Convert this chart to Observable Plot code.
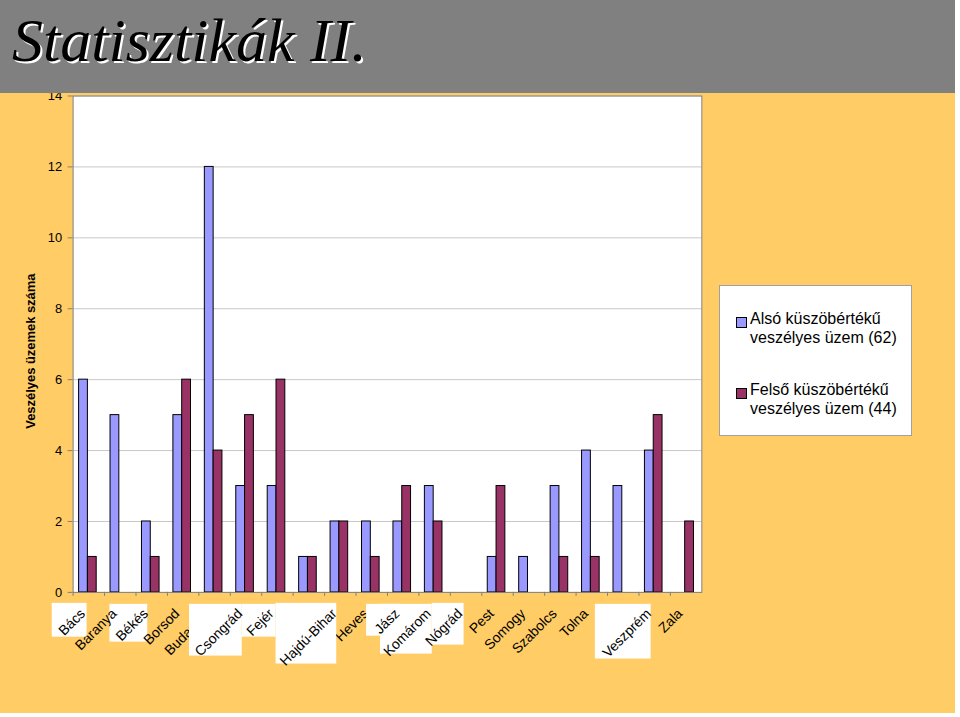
<!DOCTYPE html>
<html><head><meta charset="utf-8">
<script src="https://cdn.jsdelivr.net/npm/d3@7"></script>
<script src="https://cdn.jsdelivr.net/npm/@observablehq/plot@0.6"></script>
<style>
html,body{margin:0;padding:0;background:#fff;}
#page{position:relative;width:955px;height:713px;background:#FFCC66;overflow:hidden;font-family:"Liberation Sans",Arial,sans-serif;}
#header{position:absolute;left:0;top:0;width:955px;height:93px;background:#808080;z-index:2;}
#title{position:absolute;left:12px;top:9px;font-family:"Liberation Serif",serif;font-style:italic;font-size:62px;color:#000;text-shadow:2px 2px 0 #fff;line-height:1;white-space:nowrap;}
#chart{position:absolute;left:0;top:0;z-index:1;}
#chart svg{display:block;}
#legend{position:absolute;left:719px;top:285px;width:193px;height:151px;background:#fff;border:1px solid #a0a0a0;box-sizing:border-box;z-index:3;}
.item{position:absolute;left:16px;width:170px;}
.sw{position:absolute;left:0;top:8px;width:9px;height:9px;border:1px solid #000;}
.lt{position:absolute;left:14px;top:0;width:155px;font-size:16px;line-height:19px;color:#000;}
</style></head>
<body>
<div id="page">
  <div id="header"><div id="title">Statisztikák II.</div></div>
  <div id="chart"></div>
  <div id="legend"></div>
</div>
<script>
const counties = ["Bács","Baranya","Békés","Borsod","Budapest","Csongrád","Fejér","Győr","Hajdú-Bihar","Heves","Jász","Komárom","Nógrád","Pest","Somogy","Szabolcs","Tolna","Vas","Veszprém","Zala"];
const alsoValues  = [6,5,2,5,12,3,3,1,2,2,2,3,0,1,1,3,4,3,4,0];
const felsoValues = [1,0,1,6,4,5,6,1,2,1,3,2,0,3,0,1,1,0,5,2];
const seriesNames = ["Alsó küszöbértékű veszélyes üzem (62)","Felső küszöbértékű veszélyes üzem (44)"];
const yTicks = [0,2,4,6,8,10,12,14];
const yTitle = "Veszélyes üzemek száma";
const boxedLabels = ["Bács","Békés","Csongrád","Fejér","Hajdú-Bihar","Jász","Komárom","Nógrád","Veszprém"];

const colors = ["#9999FF","#993366"];
// white label backgrounds present in the original slide (decoration)
const boxesUnder = [[110,607,38,38]];
const boxesOver = [[52,606,35,34],[190,607,53,52],[243,607,34,33],[277,606,61,61],[368,607,34,32],[382,607,52,50],[434,606,32,42],[598,607,56,55]];

const W = 960, H = 717, mL = 73, mR = 255, mT = 96, mB = 122;
const step = (W - mL - mR) / counties.length;
const groupW = step * 0.56, barW = groupW / 2, outerL = step * 0.19, outerR = step - groupW - outerL;

const alsoData = counties.map((c,i)=>({county:c, value:alsoValues[i], series:seriesNames[0]})).filter(d=>d.value>0);
const felsoData = counties.map((c,i)=>({county:c, value:felsoValues[i], series:seriesNames[1]})).filter(d=>d.value>0);
const plainLabels = counties.filter(c => !boxedLabels.includes(c));

const labelOpts = {tickSize:0, tickRotate:-45, tickPadding:19, dx:-6, fontSize:14, label:null, fill:"black"};

const plot = Plot.plot({
  width: W, height: H,
  marginLeft: mL, marginRight: mR, marginTop: mT, marginBottom: mB,
  style: {background:"transparent", fontFamily:"'Liberation Sans', Arial, sans-serif", fontSize:"13px", color:"black"},
  x: {domain: counties, padding: 0, round: false},
  y: {domain: [0,14]},
  color: {domain: seriesNames, range: colors},
  marks: [
    Plot.frame({fill:"white"}),
    Plot.gridY({ticks:yTicks, stroke:"#c8c8c8", strokeOpacity:1}),
    Plot.barY(alsoData, {x:"county", y:"value", fill:"series", stroke:"#000", strokeWidth:1, insetLeft:outerL, insetRight:outerR+barW}),
    Plot.barY(felsoData, {x:"county", y:"value", fill:"series", stroke:"#000", strokeWidth:1, insetLeft:outerL+barW, insetRight:outerR}),
    Plot.frame({stroke:"#808080"}),
    Plot.axisY({ticks:yTicks, tickSize:5, tickPadding:6, stroke:"#808080", fill:"black", fontSize:13, label:null}),
    Plot.axisX({tickSize:4, stroke:"#808080", fill:"none", dx:-step/2, label:null}),
    Plot.text([yTitle], {text:d=>d, frameAnchor:"left", rotate:-90, dx:-42, dy:7, fontWeight:"bold", fontSize:13, textAnchor:"middle", lineAnchor:"middle", fill:"black"}),
    Plot.axisX({...labelOpts, ticks: plainLabels}),
    Plot.axisX({...labelOpts, ticks: boxedLabels})
  ]
});
document.getElementById("chart").appendChild(plot);

// white label boxes: some below the plain labels, the rest between plain and boxed labels
const svg = d3.select(plot);
const labelGroups = svg.selectAll('g[aria-label="x-axis tick label"]').nodes();
const firstGroup = labelGroups[0];
const lastGroup = labelGroups[labelGroups.length-1];
const addBoxes = (list, before) => list.forEach(([x,y,w,h]) => {
  svg.insert("rect", () => before).attr("x",x).attr("y",y).attr("width",w).attr("height",h).attr("fill","white");
});
addBoxes(boxesUnder, firstGroup);
addBoxes(boxesOver, lastGroup);

// legend
const legend = document.getElementById("legend");
const legendTops = [23, 94];
seriesNames.forEach((name,i) => {
  const it = document.createElement("div");
  it.className = "item"; it.style.top = legendTops[i] + "px";
  const sw = document.createElement("div"); sw.className = "sw"; sw.style.background = colors[i];
  const lt = document.createElement("div"); lt.className = "lt"; lt.textContent = name;
  it.appendChild(sw); it.appendChild(lt); legend.appendChild(it);
});
</script>
</body></html>
